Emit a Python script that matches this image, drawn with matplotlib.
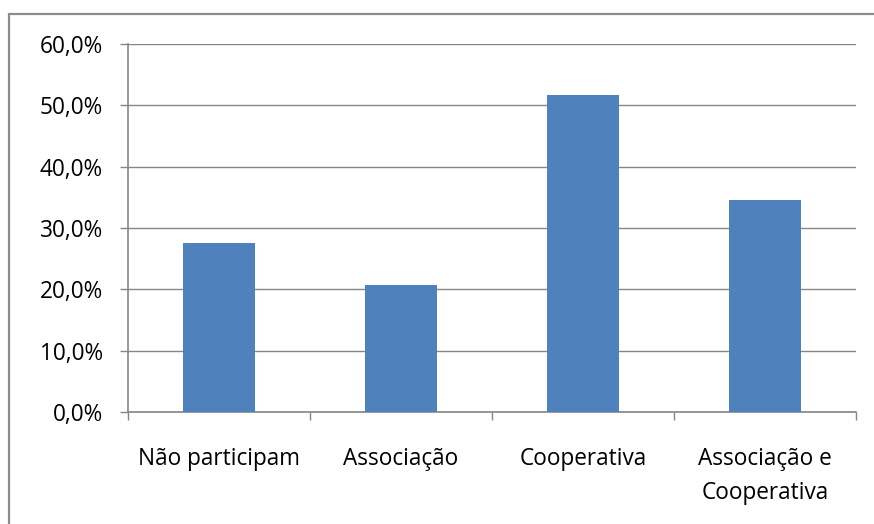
import numpy as np
import matplotlib.pyplot as plt
from matplotlib.patches import Rectangle
from matplotlib.ticker import FuncFormatter

categories = ["Não participam", "Associação", "Cooperativa", "Associação e\nCooperativa"]
percent = [27.6, 20.7, 51.7, 34.5]
y_ticks = [0, 10, 20, 30, 40, 50, 60]

plt.rcParams['font.family'] = ['Open Sans', 'DejaVu Sans']

fig = plt.figure(figsize=(8.74, 5.24), dpi=100)
ax = fig.add_axes([128 / 874, 112 / 524, 728 / 874, 368 / 524])

x = np.arange(len(categories))
ax.bar(x, percent, width=0.4, color='#4F81BD', zorder=3)

ax.set_xlim(-0.5, len(categories) - 0.5)
ax.set_ylim(0, 60)
ax.set_yticks(y_ticks)
ax.yaxis.set_major_formatter(FuncFormatter(lambda v, p: f"{v:.1f}%".replace('.', ',')))
ax.grid(axis='y', color='#868686', linewidth=1, zorder=0)

ax.set_xticks(x)
ax.set_xticklabels(categories, linespacing=1.55)
ax.set_xticks(np.arange(len(categories) + 1) - 0.5, minor=True)
ax.tick_params(axis='x', which='major', length=0, pad=25.5, labelsize=16.3)
ax.tick_params(axis='x', which='minor', length=6, width=1, color='#868686', direction='out')
ax.tick_params(axis='y', length=6, width=1, color='#868686', pad=12, labelsize=16.3)

for side in ['top', 'right']:
    ax.spines[side].set_visible(False)
for side in ['left', 'bottom']:
    ax.spines[side].set_color('#868686')
    ax.spines[side].set_linewidth(1.2)

# outer chart border
fig.patches.append(Rectangle((8.5 / 874, -0.1), 1.2, (524 - 14) / 524 + 0.1,
                             transform=fig.transFigure, fill=False,
                             edgecolor='#8c8c8c', linewidth=1.6))

fig.savefig('out.png', dpi=100)
